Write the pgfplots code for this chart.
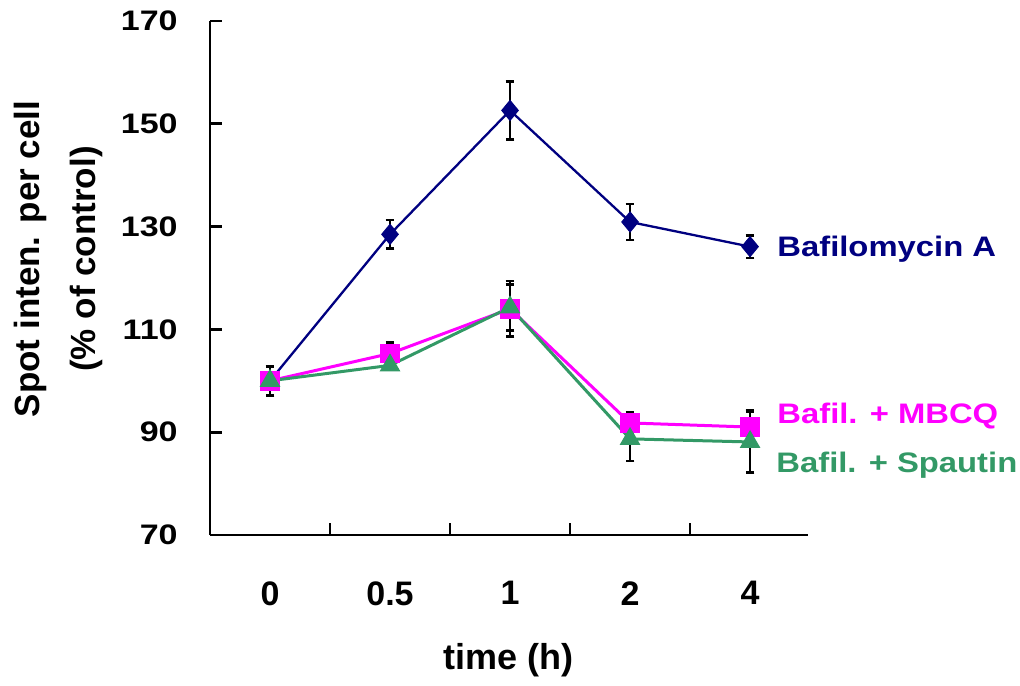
\documentclass[border=0pt]{standalone}
\usepackage{pgfplots}
\pgfplotsset{compat=1.18}
\usepackage{fontspec}
\setmainfont{Liberation Sans}
\usepackage{graphicx}
\definecolor{bnavy}{RGB}{0,0,128}
\definecolor{bmag}{RGB}{255,0,255}
\definecolor{bgreen}{RGB}{51,153,102}
\begin{document}
\begin{tikzpicture}
\path[use as bounding box] (0,0) rectangle (510pt,342.5pt);
\begin{axis}[
  at={(105pt,75pt)}, anchor=south west,
  scale only axis, width=299pt, height=257pt,
  xmin=-0.5, xmax=4.483, ymin=70, ymax=170,
  axis lines=left,
  axis line style={-, line width=1.3pt, black},
  tick align=inside,
  major tick length=6pt,
  tick style={line width=1.3pt, black},
  xtick={0.5,1.5,2.5,3.5},
  xticklabels={},
  extra x ticks={0,1,2,3,4},
  extra x tick labels={0,0.5,1,2,4},
  extra x tick style={major tick length=0pt, xticklabel style={anchor=north, inner sep=0pt, yshift=-23pt}},
  ytick={70,90,...,170},
  yticklabel={\scalebox{1}[0.83]{\pgfmathprintnumber{\tick}}},
  yticklabel style={anchor=east, inner sep=0pt, xshift=-16pt},
  tick label style={font=\fontsize{17}{20}\selectfont\bfseries},
  /pgf/number format/assume math mode=true,
  clip=false,
]
\addplot[color=bnavy, line width=1.15pt, mark=diamond*, mark size=5pt, mark options={solid, fill=bnavy, line width=0.5pt, xscale=1.1},
  error bars/.cd, y dir=both, y explicit,
  error bar style={black, line width=1.4pt},
  error mark options={rotate=90, black, line width=1.4pt, mark size=2.2pt}]
  coordinates {(0,100) +- (0,2.8) (1,128.5) +- (0,2.8) (2,152.6) +- (0,5.7) (3,130.9) +- (0,3.5) (4,126.1) +- (0,2.2)};
\addplot[color=bmag, line width=1.5pt, mark=square*, mark size=4.7pt, mark options={solid, fill=bmag, line width=0.5pt},
  error bars/.cd, y dir=both, y explicit,
  error bar style={black, line width=1.4pt},
  error mark options={rotate=90, black, line width=1.4pt, mark size=2.2pt}]
  coordinates {(0,100) +- (0,0.5) (1,105.3) +- (0,2.2) (2,114) +- (0,5.4) (3,91.8) +- (0,2) (4,91) +- (0,3.2)};
\addplot[color=bgreen, line width=1.5pt, mark=triangle*, mark size=5.5pt, mark options={solid, fill=bgreen, line width=0.5pt},
  error bars/.cd, y dir=both, y explicit,
  error bar style={black, line width=1.4pt},
  error mark options={rotate=90, black, line width=1.4pt, mark size=2.2pt}]
  coordinates {(0,100) +- (0,0.5) (1,103) +- (0,0.8) (2,114.3) +- (0,4.5) (3,88.7) +- (0,4.3) (4,88.1) +- (0,6)};
\end{axis}
\node[anchor=base west, inner sep=0pt, text=bnavy, font=\fontsize{16.4}{20}\selectfont\bfseries] at (388.5pt,214pt) {\scalebox{1}[0.86]{Bafilomycin A}};
\node[anchor=base west, inner sep=0pt, text=bmag, font=\fontsize{16.4}{20}\selectfont\bfseries] at (388.5pt,131pt) {\scalebox{1}[0.86]{Bafil. + MBCQ}};
\node[anchor=base west, inner sep=0pt, text=bgreen, font=\fontsize{16.4}{20}\selectfont\bfseries] at (388pt,106.5pt) {\scalebox{1}[0.86]{Bafil. + Spautin}};
\node[rotate=90, align=center, font=\fontsize{17.5}{28}\selectfont\bfseries] at (29pt,213pt) {Spot inten. per cell\\(\% of control)};
\node[font=\fontsize{18}{20}\selectfont\bfseries] at (254.4pt,12.5pt) {time (h)};
\end{tikzpicture}
\end{document}
